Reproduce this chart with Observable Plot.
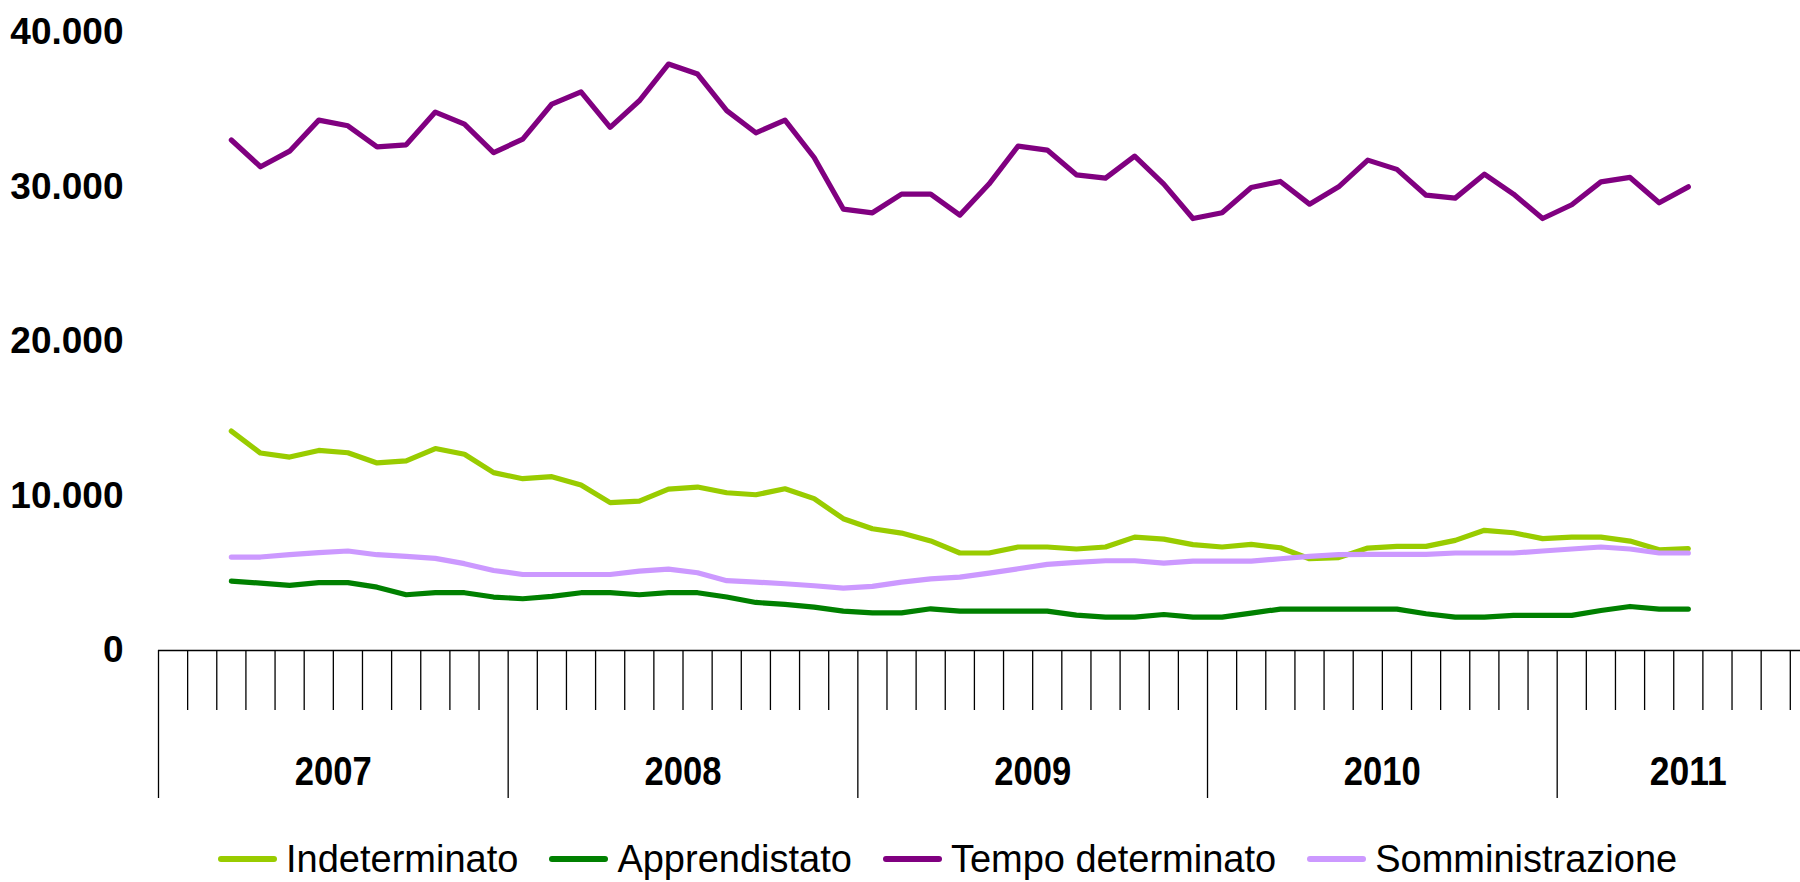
<!DOCTYPE html>
<html>
<head>
<meta charset="utf-8">
<script src="https://cdn.jsdelivr.net/npm/d3@7"></script>
<script src="https://cdn.jsdelivr.net/npm/@observablehq/plot@0.6"></script>
<style>
html, body { margin: 0; padding: 0; background: #fff; overflow: hidden; width: 1800px; height: 882px; }
#legend { display: flex; align-items: center; height: 98px; padding-left: 218px; font-family: "Liberation Sans", Arial, sans-serif; font-size: 38px; color: #000; }
.item { display: flex; align-items: center; margin-right: 31px; }
.sw { width: 59px; height: 6px; border-radius: 3px; margin-right: 9px; }
</style>
</head>
<body>
<div id="chart"></div>
<div id="legend"></div>
<script>
// ---- data ----
const periods = [
  "2007-03","2007-04","2007-05","2007-06","2007-07","2007-08","2007-09","2007-10","2007-11","2007-12",
  "2008-01","2008-02","2008-03","2008-04","2008-05","2008-06","2008-07","2008-08","2008-09","2008-10","2008-11","2008-12",
  "2009-01","2009-02","2009-03","2009-04","2009-05","2009-06","2009-07","2009-08","2009-09","2009-10","2009-11","2009-12",
  "2010-01","2010-02","2010-03","2010-04","2010-05","2010-06","2010-07","2010-08","2010-09","2010-10","2010-11","2010-12",
  "2011-01","2011-02","2011-03","2011-04","2011-05"
];
const years = ["2007", "2008", "2009", "2010", "2011"];
const axisFirst = "2007-01";
const axisEndExclusive = "2011-10";
const seriesNames = ["Indeterminato", "Apprendistato", "Tempo determinato", "Somministrazione"];
const seriesColors = ["#99CC00", "#008000", "#800080", "#CC99FF"];

const indeterminato = [
  14200, 12780, 12520, 12950, 12800, 12140, 12270, 13070, 12700, 11510,
  11120, 11250, 10710, 9570, 9670, 10450, 10580, 10210, 10080, 10470, 9830, 8530,
  7880, 7600, 7090, 6310, 6310, 6700, 6700, 6570, 6700, 7340, 7210, 6850,
  6700, 6870, 6650, 5940, 6010, 6630, 6740, 6740, 7130, 7780, 7620, 7240,
  7340, 7340, 7080, 6520, 6590
];
const apprendistato = [
  4490, 4360, 4210, 4390, 4390, 4100, 3610, 3740, 3740, 3460,
  3350, 3500, 3740, 3740, 3610, 3740, 3740, 3460, 3110, 2980, 2810, 2550,
  2440, 2440, 2700, 2550, 2550, 2550, 2550, 2290, 2160, 2160, 2330, 2160,
  2160, 2420, 2680, 2680, 2680, 2680, 2680, 2380, 2160, 2160, 2270, 2270,
  2270, 2590, 2850, 2680, 2680
];
const tempoDeterminato = [
  33040, 31310, 32320, 34330, 33960, 32600, 32730, 34850, 34070, 32220,
  33100, 35370, 36160, 33860, 35580, 37960, 37310, 34940, 33510, 34330, 31910, 28570,
  28330, 29540, 29540, 28180, 30190, 32650, 32390, 30790, 30570, 32000, 30190, 27960,
  28330, 29970, 30360, 28890, 30010, 31740, 31140, 29470, 29280, 30830, 29540, 27960,
  28850, 30330, 30620, 28980, 30010
];
const somministrazione = [
  6050, 6050, 6200, 6330, 6440, 6200, 6090, 5960, 5620, 5180,
  4920, 4920, 4920, 4920, 5140, 5270, 5030, 4520, 4430, 4320, 4190, 4040,
  4150, 4430, 4640, 4750, 5010, 5290, 5570, 5700, 5810, 5810, 5660, 5790,
  5790, 5790, 5940, 6090, 6200, 6220, 6220, 6220, 6310, 6310, 6310, 6440,
  6570, 6700, 6570, 6310, 6310
];
const yTicks = [0, 10000, 20000, 30000, 40000];

// ---- build ----
const seriesValues = [indeterminato, apprendistato, tempoDeterminato, somministrazione];
function monthIndex(p) {
  const [y, m] = p.split("-").map(Number);
  const [y0, m0] = axisFirst.split("-").map(Number);
  return (y - y0) * 12 + (m - m0);
}
const rows = [];
seriesNames.forEach((name, k) => {
  seriesValues[k].forEach((v, i) => rows.push({ series: name, x: monthIndex(periods[i]) + 0.5, v }));
});
const nMonths = monthIndex(axisEndExclusive);
const yearStarts = years.map(y => monthIndex(y + "-01"));
const yearCenters = yearStarts.map(s => (s + Math.min(s + 12, nMonths)) / 2);
const monthTicks = d3.range(1, nMonths).filter(i => !yearStarts.includes(i));
const fmt = d => d3.format(",")(d).replace(/,/g, ".");

const marks = [
  Plot.ruleY([0], { stroke: "#000", strokeWidth: 1.3 }),
  Plot.axisX(monthTicks, { tickSize: 60, tickFormat: () => "", strokeWidth: 1.3, label: null }),
  Plot.axisX(yearStarts, { tickSize: 148, tickFormat: () => "", strokeWidth: 1.3, label: null }),
  Plot.axisX(yearCenters, {
    tickSize: 0, tickPadding: 105, label: null,
    tickFormat: d => years[yearCenters.indexOf(d)],
    fontSize: 41, fontFamily: "'Liberation Sans', Arial, sans-serif", fontWeight: "bold"
  }),
  Plot.axisY(yTicks, {
    tickSize: 0, tickPadding: 35, label: null, tickFormat: fmt,
    fontSize: 37, fontFamily: "'Liberation Sans', Arial, sans-serif", fontWeight: "bold"
  })
];
seriesNames.forEach((name, k) => {
  marks.push(Plot.line(rows.filter(d => d.series === name), {
    x: "x", y: "v", stroke: seriesColors[k], strokeWidth: 5.2,
    strokeLinejoin: "round", strokeLinecap: "round"
  }));
});

const chart = Plot.plot({
  width: 1800, height: 810,
  marginLeft: 158, marginRight: 0, marginTop: 32, marginBottom: 160,
  x: { type: "linear", domain: [0, 56.35] },
  y: { domain: [0, 40000] },
  style: { background: "#fff", color: "#000", overflow: "visible" },
  marks
});
document.getElementById("chart").appendChild(chart);

// condense the year labels to the narrow width of the original
d3.select(chart).selectAll("text").each(function () {
  if (years.includes(this.textContent)) {
    this.setAttribute("textLength", 77);
    this.setAttribute("lengthAdjust", "spacingAndGlyphs");
  }
});

const legend = document.getElementById("legend");
seriesNames.forEach((name, k) => {
  const item = document.createElement("div");
  item.className = "item";
  const sw = document.createElement("span");
  sw.className = "sw";
  sw.style.background = seriesColors[k];
  const label = document.createElement("span");
  label.textContent = name;
  item.appendChild(sw);
  item.appendChild(label);
  legend.appendChild(item);
});
</script>
</body>
</html>
